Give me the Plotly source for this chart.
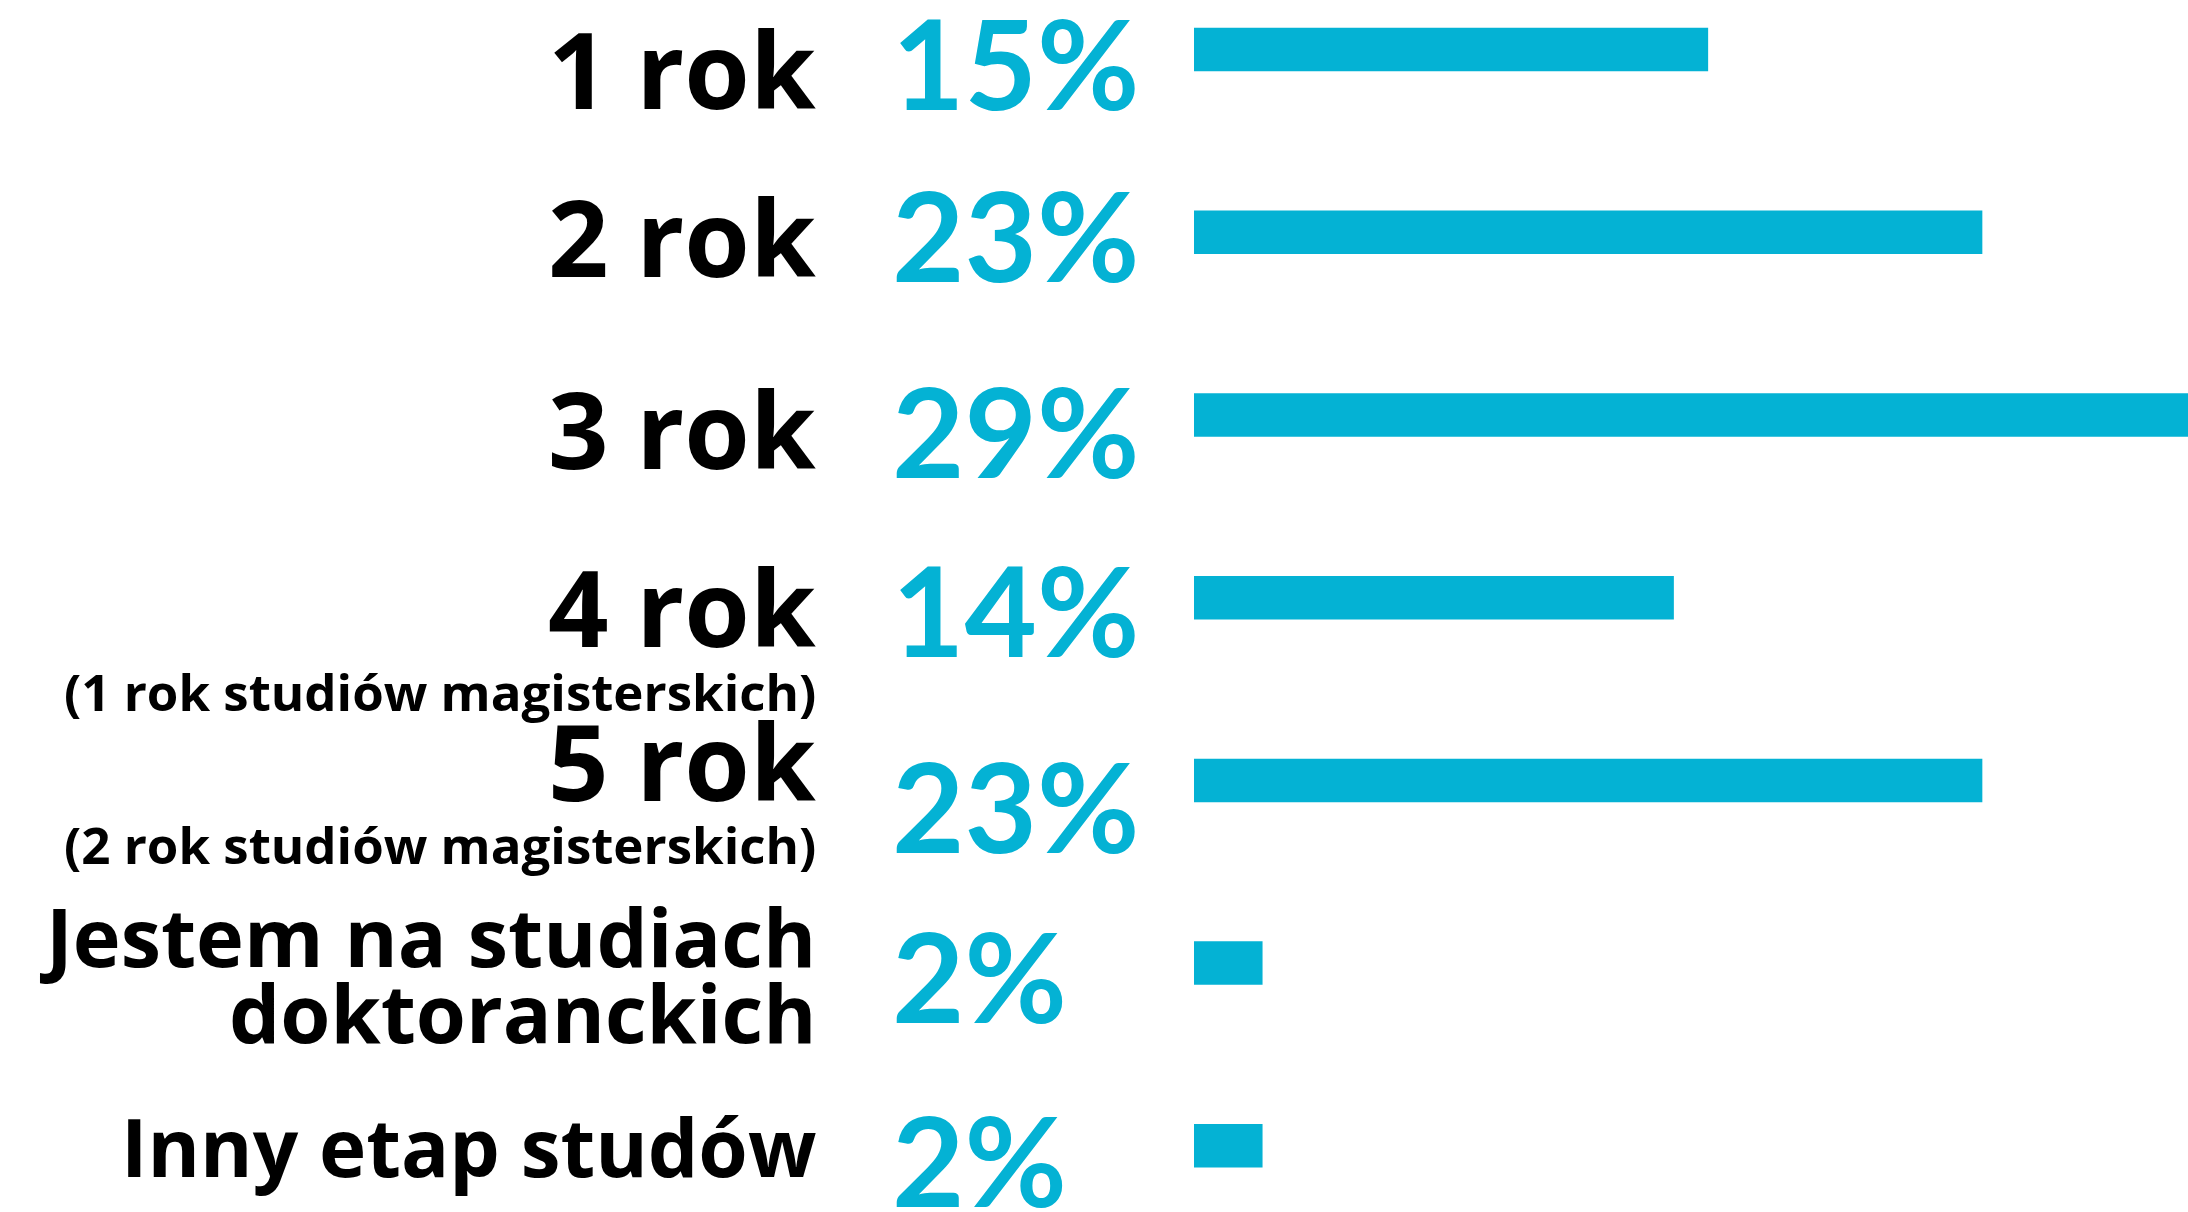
import plotly.graph_objects as go

# Survey answers: year of study
categories = [
    "1 rok",
    "2 rok",
    "3 rok",
    "4 rok",
    "5 rok",
    "Jestem na studiach<br>doktoranckich",
    "Inny etap studów",
]
sublabels = [
    "",
    "",
    "",
    "(1 rok studiów magisterskich)",
    "(2 rok studiów magisterskich)",
    "",
    "",
]
percent = [15, 23, 29, 14, 23, 2, 2]

W, H = 2188, 1212
CYAN = "#04B2D4"
LABEL_FONT = "Open Sans"
PCT_FONT = "Lato"

# Row layout: baseline of the label text below the bar centre (px)
main_size = [106, 106, 106, 106, 106, 81, 80]
main_base = [59, 45, 54, 49, 21, 4, 31]
line_gap = 76          # spacing for wrapped label lines
sub_size = 51
sub_gap = [0, 0, 0, 64, 62, 0, 0]
pct_size = 125
pct_base = [61, 50, 63, 60, 73, 60, 62]

ASC = 0.387  # offset of the text box middle above baseline, in em


def shift_for(baseline, size):
    return -(baseline - ASC * size)


fig = go.Figure(
    go.Bar(
        x=percent,
        y=categories,
        orientation="h",
        width=0.238,
        marker=dict(color=CYAN, line=dict(width=0)),
        hoverinfo="skip",
    )
)

ann = []
label_right = 818 / W
pct_left = 890 / W
for i, cat in enumerate(categories):
    lines = cat.split("<br>")
    for j, line in enumerate(lines):
        ann.append(dict(
            x=label_right, xref="paper", xanchor="right",
            y=cat, yref="y", yanchor="middle",
            yshift=shift_for(main_base[i] + j * line_gap, main_size[i]),
            text=line, showarrow=False,
            font=dict(family=LABEL_FONT, size=main_size[i], color="#000000", weight=700),
        ))
    if sublabels[i]:
        ann.append(dict(
            x=label_right, xref="paper", xanchor="right",
            y=cat, yref="y", yanchor="middle",
            yshift=shift_for(main_base[i] + sub_gap[i], sub_size),
            text=sublabels[i], showarrow=False,
            font=dict(family=LABEL_FONT, size=sub_size, color="#000000", weight=700),
        ))
    ann.append(dict(
        x=pct_left, xref="paper", xanchor="left",
        y=cat, yref="y", yanchor="middle",
        yshift=shift_for(pct_base[i], pct_size),
        text=f"{percent[i]}%", showarrow=False,
        font=dict(family=PCT_FONT, size=pct_size, color=CYAN, weight=700),
    ))

row_px = 182.7
top_px = 49.6
fig.update_layout(
    width=W, height=H,
    margin=dict(l=0, r=0, t=0, b=0),
    paper_bgcolor="white", plot_bgcolor="white",
    showlegend=False,
    annotations=ann,
    xaxis=dict(domain=[1194 / W, 1], range=[0, 29], visible=False, fixedrange=True),
    yaxis=dict(
        type="category",
        categoryorder="array", categoryarray=categories,
        range=[(H - top_px) / row_px, -top_px / row_px],
        visible=False, fixedrange=True,
    ),
)

fig.write_html("out.html", config={"displayModeBar": False})
